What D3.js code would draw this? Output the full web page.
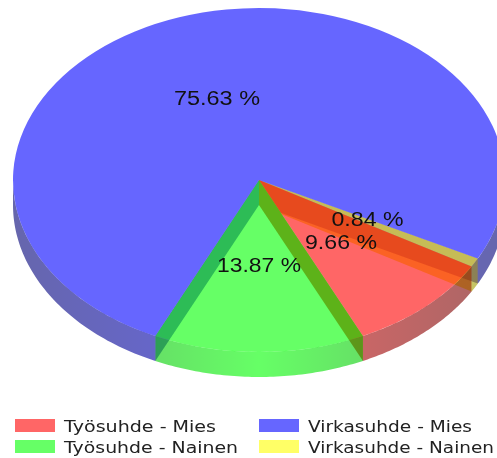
<!DOCTYPE html>
<html><head><meta charset="utf-8">
<style>html,body{margin:0;padding:0;background:#fff}svg{display:block;filter:blur(.6px)}</style>
<script src="https://cdnjs.cloudflare.com/ajax/libs/d3/7.8.5/d3.min.js"></script>
</head><body><script>
// clockwise from the lower right
const sliceNames = ["Virkasuhde - Nainen","Työsuhde - Mies","Työsuhde - Nainen","Virkasuhde - Mies"];
const sliceValues = [0.84,9.66,13.87,75.63];
const sliceColors = ["#ffff00","#ff0000","#00ff00","#0000ff"];
const sliceLabels = ["0.84 %","9.66 %","13.87 %","75.63 %"];
const legendNames = ["Työsuhde - Mies","Työsuhde - Nainen","Virkasuhde - Mies","Virkasuhde - Nainen"];
const legendColors = ["#ff0000","#00ff00","#0000ff","#ffff00"];

// style of the cut walls, per slice
const cutColors = ["#f0f000","#e84040","#00ff00","#7058d8"];
const cutAlpha = [.65,1,1,1];
const cutOrder = [3,0,2,1];
// brightness of the rim with distance from the pie's centre line
const rimStrength = [[1,.8,.62,.55],[1,.64,.48,.42],[1,.8,.62,.55],[1,.64,.5,.44]];
const rimDistance = [0,105,213,260];

const W=497,H=458,cx=259,cy=180,rx=246,ry=172,depth=25,alpha=.6;
const startDeg=27.2;
const svg=d3.select("body").append("svg").attr("width",W).attr("height",H);
const defs=svg.append("defs");

const pie=d3.pie().sort(null).value(d=>d).startAngle((startDeg+90)*Math.PI/180).endAngle((startDeg+450)*Math.PI/180);
const arcs=pie(sliceValues);
// d3 angle (0 = 12 o'clock, clockwise) to the tilted ellipse
const px=a=>cx+rx*Math.sin(a), py=a=>cy-ry*Math.cos(a);

// horizontal shading of every rim
sliceColors.forEach((c,i)=>{
  const shade=d3.scaleLinear().domain(rimDistance).range(rimStrength[i]);
  const g=defs.append("linearGradient").attr("id","g"+i).attr("gradientUnits","userSpaceOnUse")
    .attr("x1",cx-260).attr("x2",cx+260).attr("y1",0).attr("y2",0);
  d3.range(0,1.001,.05).forEach(t=>{
    g.append("stop").attr("offset",t).attr("stop-color",d3.interpolateRgb("#000",c)(shade(Math.abs(t*520-260))));
  });
});

const lineG=d3.line();
const walls=svg.append("g");
// inner cut walls that face the viewer (screen angle = d3 angle - 90deg)
cutOrder.forEach(i=>{
  const d=arcs[i], list=[];
  if(Math.cos(d.endAngle-Math.PI/2)>0) list.push(d.endAngle);
  if(Math.cos(d.startAngle-Math.PI/2)<0) list.push(d.startAngle);
  list.forEach(a=>{
    walls.append("path")
      .attr("d",lineG([[cx,cy],[cx,cy+depth],[px(a),py(a)+depth],[px(a),py(a)]])+"Z")
      .attr("fill",cutColors[i]).attr("fill-opacity",cutAlpha[i]);
  });
});
// outer rim, front half only
arcs.forEach((d,i)=>{
  const full=Math.PI*2, ranges=[[Math.PI/2,Math.PI*1.5],[Math.PI/2+full,Math.PI*1.5+full]];
  ranges.forEach(([lo,hi])=>{
    const a0=Math.max(lo,d.startAngle),a1=Math.min(hi,d.endAngle);
    if(a1<=a0) return;
    const ts=d3.range(0,1.0001,1/60).map(t=>a0+(a1-a0)*t);
    const pts=ts.map(a=>[px(a),py(a)]).concat(ts.slice().reverse().map(a=>[px(a),py(a)+depth]));
    walls.append("path").attr("d",lineG(pts)+"Z").attr("fill",`url(#g${i})`).attr("fill-opacity",alpha);
  });
});

// top faces
const arc=d3.arc().innerRadius(0).outerRadius(rx);
const tops=svg.append("g").attr("transform",`translate(${cx},${cy}) scale(1,${ry/rx})`);
tops.selectAll("path").data(arcs).join("path").attr("d",arc)
  .attr("fill",(d,i)=>sliceColors[i]).attr("fill-opacity",alpha);

// value labels
const labelPos=[[367.5,226],[341,249],[259,272],[217,105]], labelW=[72,72,84,86];
svg.append("g").selectAll("text").data(sliceLabels).join("text")
  .attr("x",(d,i)=>labelPos[i][0]-labelW[i]/2).attr("y",(d,i)=>labelPos[i][1])
  .attr("textLength",(d,i)=>labelW[i]).attr("lengthAdjust","spacingAndGlyphs")
  .attr("font-family","Liberation Sans, Arial, sans-serif")
  .attr("font-size",19.5).attr("fill","#111").text(d=>d);

// legend
const lg=svg.append("g");
const legX=[15,259], legY=[419,440], textW=[[152,174],[164,186]];
legendNames.forEach((n,i)=>{
  const c=i<2?0:1,r=i%2;
  lg.append("rect").attr("x",legX[c]).attr("y",legY[r]).attr("width",40).attr("height",13)
    .attr("fill",legendColors[i]).attr("fill-opacity",alpha);
  lg.append("text").attr("x",legX[c]+49).attr("y",legY[r]+13)
    .attr("font-family","DejaVu Sans, Verdana, sans-serif").attr("font-size",15).attr("fill","#222")
    .attr("textLength",textW[c][r]).attr("lengthAdjust","spacingAndGlyphs").text(n);
});
</script></body></html>
